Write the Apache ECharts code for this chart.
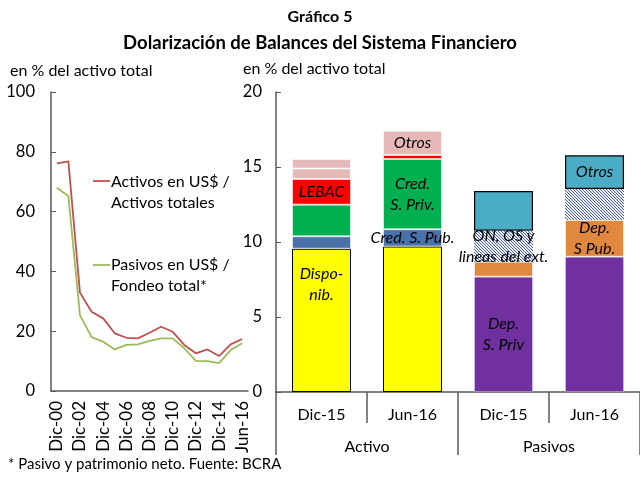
<!DOCTYPE html>
<html><head><meta charset="utf-8">
<script src="https://cdn.jsdelivr.net/npm/echarts@6/dist/echarts.min.js"></script>
<style>html,body{margin:0;padding:0;background:#fff}#c{width:640px;height:477px}</style>
</head><body><div id="c"></div>
<script>
// ---- Left panel data ----
const years = ['Dic-00','Dic-01','Dic-02','Dic-03','Dic-04','Dic-05','Dic-06','Dic-07','Dic-08','Dic-09','Dic-10','Dic-11','Dic-12','Dic-13','Dic-14','Dic-15','Jun-16'];
const activosUSD = [76.1, 76.8, 32.9, 26.5, 24.3, 19.3, 17.8, 17.6, 19.5, 21.5, 19.8, 15.4, 12.6, 13.9, 11.7, 15.6, 17.4];
const pasivosUSD = [68.0, 65.2, 25.4, 18.0, 16.5, 13.9, 15.4, 15.6, 16.8, 17.6, 17.6, 14.3, 10.1, 10.0, 9.3, 13.7, 16.0];
const seriesNames = ['Activos en US$ / Activos totales', 'Pasivos en US$ / Fondeo total*'];

// ---- Right panel data ----
const barCats = ['Dic-15','Jun-16','Dic-15','Jun-16'];
const groupCats = ['Activo','Pasivos'];
const disponib  = [9.55, 9.70, null, null];
const credSPub  = [0.83, 1.15, null, null];
const credSPriv = [2.11, 4.68, null, null];
const lebac     = [1.71, 0.27, null, null];
const otrosA1   = [0.70, 1.62, null, null];
const otrosA2   = [0.63, null, null, null];
const depSPriv  = [null, null, 7.69, 9.02];
const depSPub   = [null, null, 1.00, 2.45];
const onOsExt   = [null, null, 2.06, 2.06];
const otrosP    = [null, null, 2.65, 2.25];

const lblDisponib = ['Dispo-\nnib.', '', '', ''];
const lblCredSPub = ['', 'Cred. S. Pub.', '', ''];
const lblCredSPriv = ['', 'Cred.\nS. Priv.', '', ''];
const lblLebac = ['LEBAC', '', '', ''];
const lblOtrosA = ['', 'Otros', '', ''];
const lblDepSPriv = ['', '', 'Dep.\nS. Priv', ''];
const lblDepSPub = ['', '', '', 'Dep.\nS Pub.'];
const lblOnOs = ['', '', 'ON, OS y\nlineas del ext.', ''];
const lblOtrosP = ['', '', '', 'Otros'];

const FONT = 'Lato, "DejaVu Sans", sans-serif';
const AXC = '#595959';

function hatch() {
  const n = 3;
  const c = document.createElement('canvas'); c.width = n; c.height = n;
  const g = c.getContext('2d');
  g.fillStyle = '#eef0f7'; g.fillRect(0, 0, n, n);
  g.fillStyle = '#4a5f9c';
  for (let i = 0; i < n; i++) g.fillRect(i, i, 1, 1);
  return c;
}

function barSeries(name, values, labels, color, opts) {
  opts = opts || {};
  return {
    type: 'bar', name: name, xAxisIndex: 1, yAxisIndex: 1, stack: 's', barWidth: 59,
    itemStyle: Object.assign({ color: color, borderColor: 'rgba(255,255,255,0.55)', borderWidth: 1 }, opts.itemStyle || {}),
    label: Object.assign({ show: true, position: 'inside', fontFamily: FONT, fontStyle: 'italic', fontSize: 16, lineHeight: 21, color: '#000' }, opts.label || {}),
    data: values.map((v, i) => ({ value: v, label: { show: !!labels[i], formatter: labels[i] || '' } })),
    z: opts.z || 2
  };
}

const chart = echarts.init(document.getElementById('c'), null, { renderer: 'canvas' });
chart.setOption({
  animation: false,
  backgroundColor: '#fff',
  textStyle: { fontFamily: FONT },
  grid: [
    { left: 51, top: 92, width: 197, height: 299 },
    { left: 276, top: 92, width: 369, height: 300 }
  ],
  xAxis: [
    { type: 'category', gridIndex: 0, data: years, boundaryGap: true,
      axisLine: { lineStyle: { color: AXC, width: 1.5 } }, axisTick: { show: false },
      axisLabel: { interval: 1, rotate: 90, fontSize: 17, color: '#000', fontFamily: FONT, margin: 10 } },
    { type: 'category', gridIndex: 1, data: barCats, boundaryGap: true, position: 'bottom',
      axisLine: { lineStyle: { color: AXC, width: 1.5 } },
      axisTick: { show: true, length: 31, lineStyle: { color: AXC, width: 1.5 } },
      axisLabel: { fontSize: 16, color: '#000', fontFamily: FONT, margin: 15 } },
    { type: 'category', gridIndex: 1, data: groupCats, boundaryGap: true, position: 'bottom',
      axisLine: { show: false },
      axisTick: { show: true, length: 63, lineStyle: { color: AXC, width: 1.5 } },
      axisLabel: { fontSize: 16, color: '#000', fontFamily: FONT, margin: 47 } }
  ],
  yAxis: [
    { type: 'value', gridIndex: 0, min: 0, max: 100, interval: 20,
      axisLine: { show: true, lineStyle: { color: AXC, width: 1.5 } },
      axisTick: { show: true, inside: true, length: 5, lineStyle: { color: AXC } },
      splitLine: { show: false },
      axisLabel: { fontSize: 16.5, color: '#000', fontFamily: FONT, margin: 16 } },
    { type: 'value', gridIndex: 1, min: 0, max: 20, interval: 5,
      axisLine: { show: true, lineStyle: { color: AXC, width: 1.5 } },
      axisTick: { show: true, inside: true, length: 5, lineStyle: { color: AXC } },
      splitLine: { show: false },
      axisLabel: { fontSize: 16.5, color: '#000', fontFamily: FONT, margin: 14 } }
  ],
  series: [
    { type: 'line', name: seriesNames[0], xAxisIndex: 0, yAxisIndex: 0, data: activosUSD, showSymbol: false, symbol: 'none',
      lineStyle: { color: '#c0504d', width: 1.8 }, itemStyle: { color: '#c0504d' } },
    { type: 'line', name: seriesNames[1], xAxisIndex: 0, yAxisIndex: 0, data: pasivosUSD, showSymbol: false, symbol: 'none',
      lineStyle: { color: '#9bbb59', width: 1.8 }, itemStyle: { color: '#9bbb59' } },
    barSeries('Disponib.', disponib, lblDisponib, '#ffff00', { itemStyle: { borderColor: '#000', borderWidth: 1 }, label: { position: 'insideTop', distance: 15 } }),
    barSeries('Cred. S. Pub.', credSPub, lblCredSPub, '#4a72aa', { z: 3 }),
    barSeries('Cred. S. Priv.', credSPriv, lblCredSPriv, '#00b050'),
    barSeries('LEBAC', lebac, lblLebac, '#ff0000'),
    barSeries('Otros', otrosA1, lblOtrosA, '#e6b9b8'),
    barSeries('Otros ', otrosA2, ['', '', '', ''], '#e6b9b8'),
    barSeries('Dep. S. Priv', depSPriv, lblDepSPriv, '#7030a0', { itemStyle: { borderColor: 'rgba(255,255,255,0.3)' } }),
    barSeries('Dep. S Pub.', depSPub, lblDepSPub, '#e0883e'),
    barSeries('ON, OS y lineas del ext.', onOsExt, lblOnOs, { image: hatch(), repeat: 'repeat' }, { z: 3, itemStyle: { borderWidth: 0 } }),
    barSeries('Otros pasivos', otrosP, lblOtrosP, '#4bacc6', { itemStyle: { borderColor: '#000', borderWidth: 1.2 } })
  ],
  graphic: [
    { type: 'text', left: 'center', top: 9, style: { text: 'Gráfico 5', font: 'bold 16px ' + FONT, fill: '#000' } },
    { type: 'text', left: 'center', top: 34, style: { text: 'Dolarización de Balances del Sistema Financiero', font: 'bold 18.5px ' + FONT, fill: '#000' } },
    { type: 'text', left: 10, top: 63, style: { text: 'en % del activo total', font: '16px ' + FONT, fill: '#000' } },
    { type: 'text', left: 243, top: 61, style: { text: 'en % del activo total', font: '16px ' + FONT, fill: '#000' } },
    { type: 'line', shape: { x1: 93, y1: 181, x2: 110, y2: 181 }, style: { stroke: '#c0504d', lineWidth: 1.8 } },
    { type: 'text', left: 111, top: 171, style: { text: 'Activos en US$ /\nActivos totales', font: '16px ' + FONT, lineHeight: 21, fill: '#000' } },
    { type: 'line', shape: { x1: 93, y1: 265, x2: 110, y2: 265 }, style: { stroke: '#9bbb59', lineWidth: 1.8 } },
    { type: 'text', left: 111, top: 254, style: { text: 'Pasivos en US$ /\nFondeo total*', font: '16px ' + FONT, lineHeight: 21, fill: '#000' } },
    { type: 'text', left: 8, top: 457, style: { text: '* Pasivo y patrimonio neto. Fuente: BCRA', font: '15px ' + FONT, fill: '#000' } }
  ]
});
</script>
</body></html>
